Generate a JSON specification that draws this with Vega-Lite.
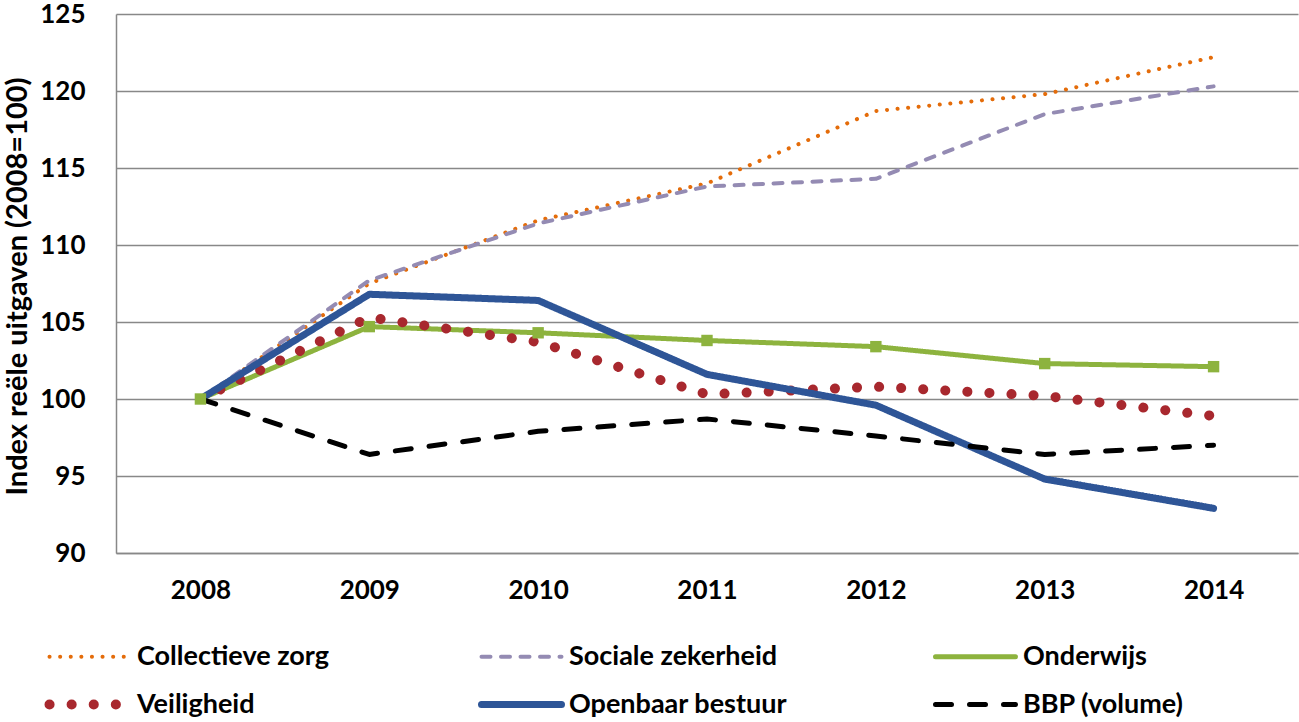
{
  "$schema": "https://vega.github.io/schema/vega-lite/v6.json",
  "width": 1182,
  "height": 539,
  "autosize": {"type": "none"},
  "padding": {"left": 116, "top": 14, "right": 1, "bottom": 169},
  "background": "white",
  "config": {
    "font": "Lato",
    "view": {"stroke": null},
    "axis": {"labelFont": "Lato", "titleFont": "Lato"}
  },
  "data": {
    "values": [
      {"year": "2008", "series": "Collectieve zorg", "value": 100},
      {"year": "2009", "series": "Collectieve zorg", "value": 107.5},
      {"year": "2010", "series": "Collectieve zorg", "value": 111.6},
      {"year": "2011", "series": "Collectieve zorg", "value": 114.0},
      {"year": "2012", "series": "Collectieve zorg", "value": 118.7},
      {"year": "2013", "series": "Collectieve zorg", "value": 119.8},
      {"year": "2014", "series": "Collectieve zorg", "value": 122.2},
      {"year": "2008", "series": "Sociale zekerheid", "value": 100},
      {"year": "2009", "series": "Sociale zekerheid", "value": 107.7},
      {"year": "2010", "series": "Sociale zekerheid", "value": 111.4},
      {"year": "2011", "series": "Sociale zekerheid", "value": 113.8},
      {"year": "2012", "series": "Sociale zekerheid", "value": 114.3},
      {"year": "2013", "series": "Sociale zekerheid", "value": 118.5},
      {"year": "2014", "series": "Sociale zekerheid", "value": 120.3},
      {"year": "2008", "series": "Onderwijs", "value": 100},
      {"year": "2009", "series": "Onderwijs", "value": 104.7},
      {"year": "2010", "series": "Onderwijs", "value": 104.3},
      {"year": "2011", "series": "Onderwijs", "value": 103.8},
      {"year": "2012", "series": "Onderwijs", "value": 103.4},
      {"year": "2013", "series": "Onderwijs", "value": 102.3},
      {"year": "2014", "series": "Onderwijs", "value": 102.1},
      {"year": "2008", "series": "Veiligheid", "value": 100},
      {"year": "2009", "series": "Veiligheid", "value": 105.3},
      {"year": "2010", "series": "Veiligheid", "value": 103.7},
      {"year": "2011", "series": "Veiligheid", "value": 100.3},
      {"year": "2012", "series": "Veiligheid", "value": 100.8},
      {"year": "2013", "series": "Veiligheid", "value": 100.2},
      {"year": "2014", "series": "Veiligheid", "value": 98.9},
      {"year": "2008", "series": "Openbaar bestuur", "value": 100},
      {"year": "2009", "series": "Openbaar bestuur", "value": 106.8},
      {"year": "2010", "series": "Openbaar bestuur", "value": 106.4},
      {"year": "2011", "series": "Openbaar bestuur", "value": 101.6},
      {"year": "2012", "series": "Openbaar bestuur", "value": 99.6},
      {"year": "2013", "series": "Openbaar bestuur", "value": 94.8},
      {"year": "2014", "series": "Openbaar bestuur", "value": 92.9},
      {"year": "2008", "series": "BBP (volume)", "value": 100},
      {"year": "2009", "series": "BBP (volume)", "value": 96.4},
      {"year": "2010", "series": "BBP (volume)", "value": 97.9},
      {"year": "2011", "series": "BBP (volume)", "value": 98.7},
      {"year": "2012", "series": "BBP (volume)", "value": 97.6},
      {"year": "2013", "series": "BBP (volume)", "value": 96.4},
      {"year": "2014", "series": "BBP (volume)", "value": 97.0}
    ]
  },
  "encoding": {
    "x": {
      "field": "year",
      "type": "ordinal",
      "scale": {"type": "point", "padding": 0.5},
      "axis": {
        "title": null,
        "labelAngle": 0,
        "ticks": false,
        "grid": false,
        "domainColor": "#888888",
        "domainWidth": 1.5,
        "labelFontSize": 26,
        "labelFontWeight": "bold",
        "labelColor": "#000000",
        "labelPadding": 24
      }
    },
    "y": {
      "field": "value",
      "type": "quantitative",
      "scale": {"domain": [90, 125], "nice": false, "zero": false},
      "axis": {
        "values": [90, 95, 100, 105, 110, 115, 120, 125],
        "title": "Index reële uitgaven (2008=100)",
        "titleFontSize": 29,
        "titleFontWeight": "bold",
        "titleColor": "#000000",
        "titleAngle": -90,
        "titleAlign": "center",
        "titleBaseline": "middle",
        "titleX": -99,
        "titleY": 272,
        "ticks": false,
        "grid": true,
        "gridColor": "#888888",
        "gridWidth": 1.5,
        "domainColor": "#888888",
        "domainWidth": 1.5,
        "labelFontSize": 26,
        "labelFontWeight": "bold",
        "labelColor": "#000000",
        "labelPadding": 31
      }
    }
  },
  "layer": [
    {
      "mark": {"type": "line", "strokeCap": "round", "strokeJoin": "round"},
      "encoding": {
        "color": {
          "field": "series",
          "type": "nominal",
          "scale": {
            "domain": ["Collectieve zorg", "Sociale zekerheid", "Onderwijs", "Veiligheid", "Openbaar bestuur", "BBP (volume)"],
            "range": ["#E46C0A", "#948BB3", "#8DB33E", "#A8282E", "#2E5597", "#000000"]
          },
          "legend": {
            "title": null,
            "orient": "none",
            "direction": "horizontal",
            "legendX": -40,
            "legendY": 629,
            "columns": 3,
            "padding": 0,
            "columnPadding": 137,
            "rowPadding": 14,
            "symbolType": "stroke",
            "symbolSize": 6400,
            "labelFontSize": 27,
            "labelFontWeight": "bold",
            "labelColor": "#000000",
            "labelOffset": 34,
            "labelLimit": 400,
            "encode": {
              "symbols": {
                "update": {
                  "strokeCap": {"value": "round"},
                  "strokeWidth": {"signal": "datum.value === 'Veiligheid' ? 10 : datum.value === 'Openbaar bestuur' ? 7 : datum.value === 'Onderwijs' || datum.value === 'BBP (volume)' ? 5 : 4"}
                }
              }
            }
          }
        },
        "strokeDash": {
          "field": "series",
          "type": "nominal",
          "scale": {
            "domain": ["Collectieve zorg", "Sociale zekerheid", "Onderwijs", "Veiligheid", "Openbaar bestuur", "BBP (volume)"],
            "range": [[0.1, 10.5], [9, 10.5], [1, 0], [0.1, 22], [1, 0], [16, 18]]
          },
          "legend": null
        },
        "strokeWidth": {
          "condition": [
            {"test": "datum.series === 'Veiligheid'", "value": 10},
            {"test": "datum.series === 'Openbaar bestuur'", "value": 7},
            {"test": "datum.series === 'Onderwijs' || datum.series === 'BBP (volume)'", "value": 5}
          ],
          "value": 4
        }
      }
    },
    {
      "transform": [{"filter": "datum.series === 'Onderwijs'"}],
      "mark": {"type": "point", "shape": "square", "filled": true, "size": 130, "color": "#8DB33E", "opacity": 1}
    }
  ]
}
